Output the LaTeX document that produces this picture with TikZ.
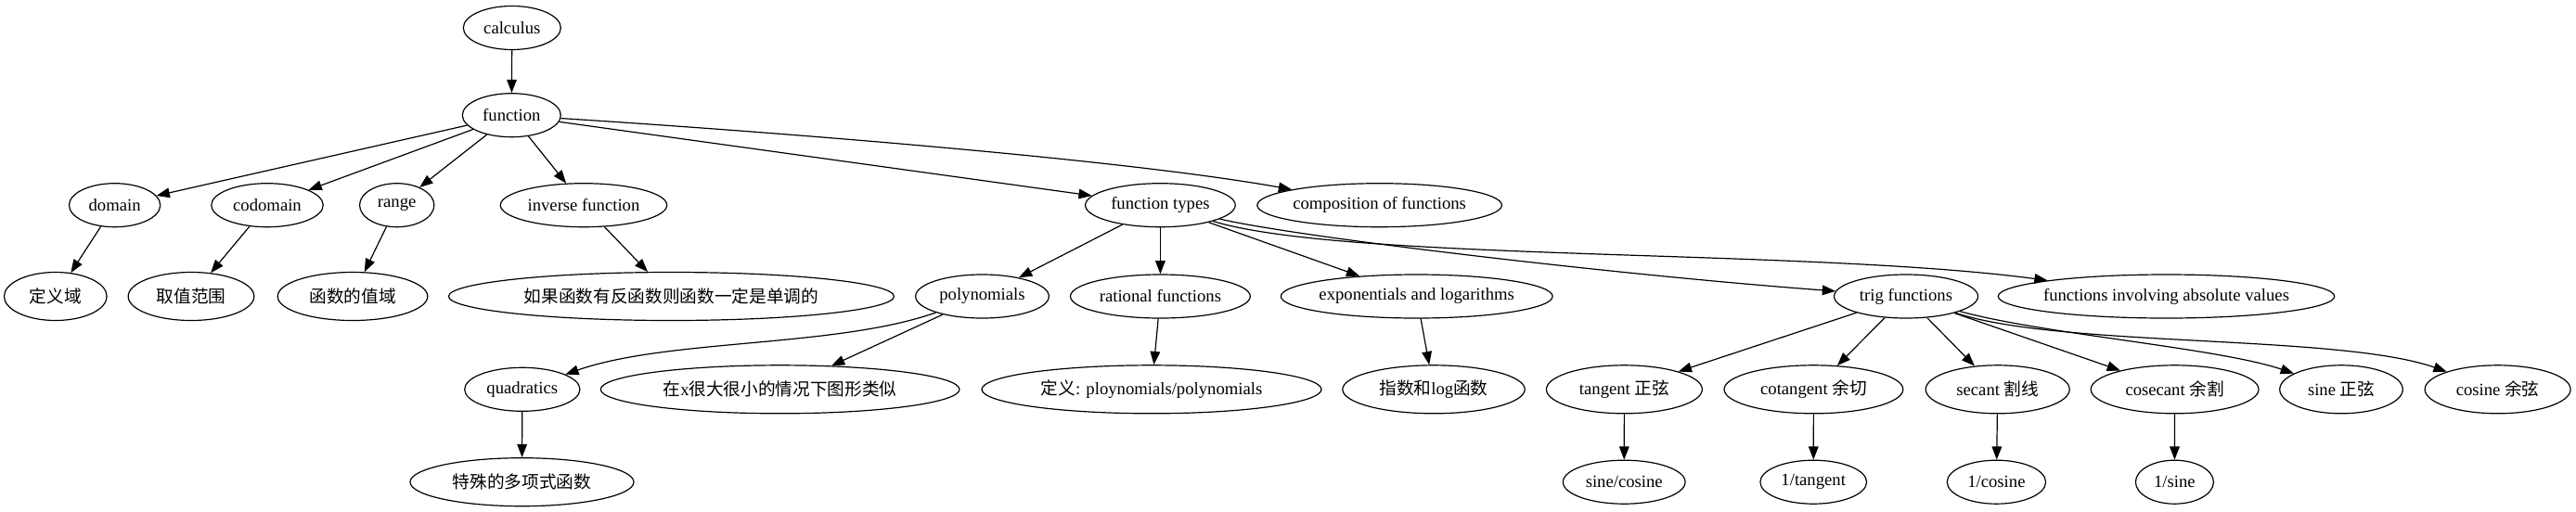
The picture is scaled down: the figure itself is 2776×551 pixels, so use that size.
\documentclass[tikz,border=0pt]{standalone}
\usepackage{fontspec}
\setmainfont{Liberation Serif}
\newfontfamily\cjkfont{Noto Sans CJK SC}
\newcommand\zhs[1]{{\cjkfont #1}}
\usetikzlibrary{arrows.meta,shapes.geometric}
\begin{document}
\begin{tikzpicture}[x=0.75pt,y=-0.75pt,
  gv/.style={draw, ellipse, line width=0.9pt, inner xsep=-6pt, inner ysep=0pt,
    minimum height=35.25pt, font=\fontsize{14}{16}\selectfont},
  gvz/.style={gv, minimum height=39pt},
  wd/.style={minimum width=#1*0.75pt},
  arr/.style={line width=0.9pt, -{Triangle[length=10.7pt,width=8pt]}}]
\useasboundingbox (0,0) rectangle (2776,551);

% rank 1-2
\node[gv, wd=105] (calculus) at (551.8,30) {calculus};
\node[gv, wd=106] (function) at (551.3,124.2) {function};
% rank 3
\node[gv, wd=98.2]  (domain)   at (123.6,221.2) {domain};
\node[gv, wd=120.5] (codomain) at (288,221.2) {codomain};
\node[gv, wd=80.3]  (range)    at (427.7,221.2) {range};
\node[gv, wd=179.4] (inverse)  at (629,221.2) {inverse function};
\node[gv, wd=161.6] (ftypes)   at (1250.4,221.2) {function types};
\node[gv, wd=263.6] (compo)    at (1486.6,221.2) {composition of functions};
% rank 4
\node[gvz, wd=110.7] (dy)   at (59.8,319.5) {\zhs{定义域}};
\node[gvz, wd=135.7] (qz)   at (206,319.5) {\zhs{取值范围}};
\node[gvz, wd=161.6] (zy)   at (380,319.5) {\zhs{函数的值域}};
\node[gvz, wd=480]   (fhs)  at (723.4,319.5) {\zhs{如果函数有反函数则函数一定是单调的}};
\node[gv, wd=143.7]  (poly) at (1058.5,319.5) {polynomials};
\node[gv, wd=193.8]  (rat)  at (1250.4,319.5) {rational functions};
\node[gv, wd=292.8]  (expo) at (1526.7,319.5) {exponentials and logarithms};
\node[gv, wd=155]    (trig) at (2054,319.5) {trig functions};
\node[gv, wd=362.5]  (abs)  at (2334.5,319.5) {functions involving absolute values};
% rank 5
\node[gv, wd=124.3]  (quad)   at (562.8,419.8) {quadratics};
\node[gvz, wd=386.7] (bigx)   at (840.6,419.8) {\zhs{在}x\zhs{很大很小的情况下图形类似}};
\node[gvz, wd=366]   (ratdef) at (1241,419.8) {\zhs{定义}: ploynomials/polynomials};
\node[gvz, wd=196.4] (explog) at (1545,419.8) {\zhs{指数和}log\zhs{函数}};
\node[gvz, wd=167.9] (tan)    at (1750.4,419.8) {tangent \zhs{正弦}};
\node[gvz, wd=192.8] (cot)    at (1954.4,419.8) {cotangent \zhs{余切}};
\node[gvz, wd=155]   (sec)    at (2152.7,419.8) {secant \zhs{割线}};
\node[gvz, wd=180.8] (csc)    at (2343.6,419.8) {cosecant \zhs{余割}};
\node[gvz, wd=132.6] (sin)    at (2523,419.8) {sine \zhs{正弦}};
\node[gvz, wd=157]   (cos)    at (2691.6,419.8) {cosine \zhs{余弦}};
% rank 6
\node[gvz, wd=241]  (special) at (562.5,519.7) {\zhs{特殊的多项式函数}};
\node[gv, wd=131.7] (sc)      at (1750.2,519.7) {sine/cosine};
\node[gv, wd=114.7] (itan)    at (1954.2,519.7) {1/tangent};
\node[gv, wd=106.3] (icos)    at (2151.4,519.7) {1/cosine};
\node[gv, wd=84]    (isin)    at (2343.4,519.7) {1/sine};

% edges
\draw[arr] (calculus) -- (function);
\draw[arr] (function) -- (domain);
\draw[arr] (function) -- (codomain);
\draw[arr] (function) -- (range);
\draw[arr] (function) -- (inverse);
\draw[arr] (function) -- (ftypes);
\draw[arr] (function) .. controls (800,140) and (1200,170) .. (compo);
\draw[arr] (domain) -- (dy);
\draw[arr] (codomain) -- (qz);
\draw[arr] (range) -- (zy);
\draw[arr] (inverse) -- (fhs);
\draw[arr] (ftypes) -- (poly);
\draw[arr] (ftypes) -- (rat);
\draw[arr] (ftypes) -- (expo);
\draw[arr] (ftypes) .. controls (1400,256) and (1750,297) .. (trig);
\draw[arr] (ftypes) .. controls (1450,282) and (1950,268) .. (abs);
\draw[arr] (poly) .. controls (900,375) and (720,365) .. (quad);
\draw[arr] (poly) -- (bigx);
\draw[arr] (rat) -- (ratdef);
\draw[arr] (expo) -- (explog);
\draw[arr] (trig) -- (tan);
\draw[arr] (trig) -- (cot);
\draw[arr] (trig) -- (sec);
\draw[arr] (trig) -- (csc);
\draw[arr] (trig) .. controls (2200,360) and (2390,375) .. (sin);
\draw[arr] (trig) .. controls (2220,375) and (2520,360) .. (cos);
\draw[arr] (quad) -- (special);
\draw[arr] (tan) -- (sc);
\draw[arr] (cot) -- (itan);
\draw[arr] (sec) -- (icos);
\draw[arr] (csc) -- (isin);
\end{tikzpicture}
\end{document}
